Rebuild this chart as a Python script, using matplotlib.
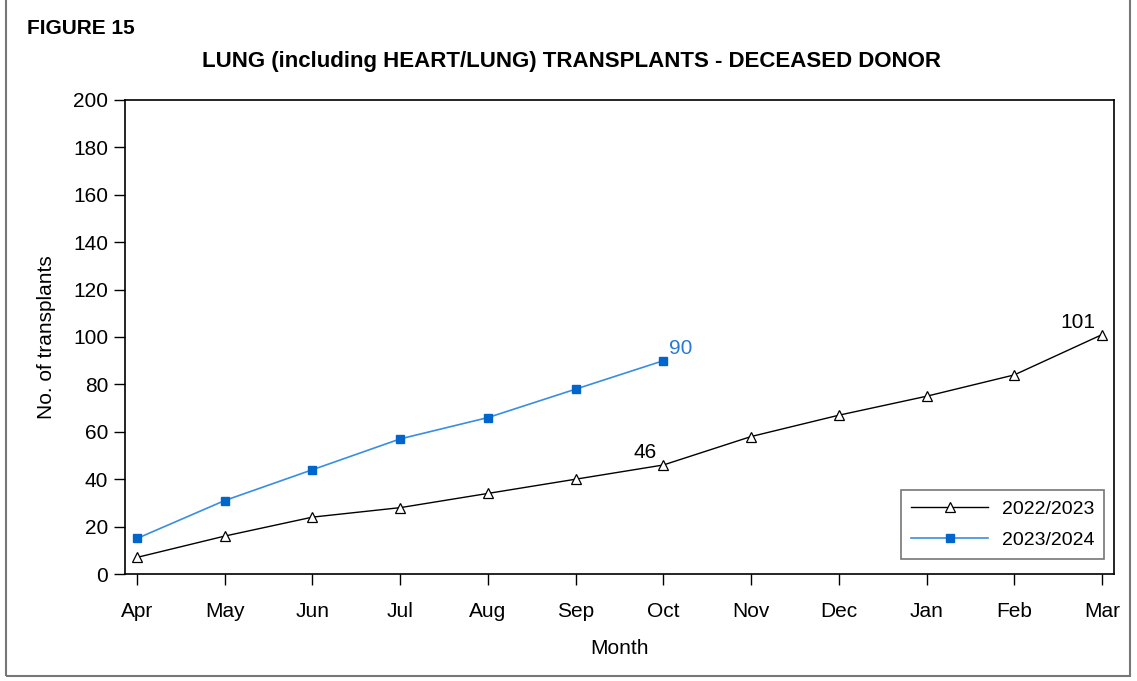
import matplotlib.pyplot as plt
from matplotlib.patches import Rectangle

plt.rcParams['font.family'] = ['Liberation Sans', 'DejaVu Sans']

months = ['Apr', 'May', 'Jun', 'Jul', 'Aug', 'Sep', 'Oct', 'Nov', 'Dec', 'Jan', 'Feb', 'Mar']
y2022 = [7, 16, 24, 28, 34, 40, 46, 58, 67, 75, 84, 101]
y2023 = [15, 31, 44, 57, 66, 78, 90]
blue = '#0066CC'

fig = plt.figure(figsize=(11.37, 6.81), dpi=100)
ax = fig.add_axes([0.1099, 0.1571, 0.8699, 0.6961])

x1 = list(range(len(y2022)))
x2 = list(range(len(y2023)))
ax.plot(x1, y2022, color='black', lw=1, marker='^', markersize=7,
        markerfacecolor='white', markeredgecolor='black', markeredgewidth=0.9,
        label='2022/2023')
ax.plot(x2, y2023, color='#3A8EE0', lw=1.2, marker='s', markersize=5.5,
        markerfacecolor=blue, markeredgecolor=blue, label='2023/2024')

ax.annotate(str(y2023[-1]), (x2[-1], y2023[-1]), xytext=(4, 2), textcoords='offset points',
            color='#2A7AD5', fontsize=15, ha='left', va='bottom')
ax.annotate(str(y2022[6]), (6, y2022[6]), xytext=(-5, 2), textcoords='offset points',
            color='black', fontsize=15, ha='right', va='bottom')
ax.annotate(str(y2022[-1]), (11, y2022[-1]), xytext=(-5, 2), textcoords='offset points',
            color='black', fontsize=15, ha='right', va='bottom')

ax.set_xlim(-0.137, 11.137)
ax.set_ylim(0, 200)
ax.set_yticks(range(0, 201, 20))
ax.set_xticks(x1)
ax.set_xticklabels(months)
ax.tick_params(axis='both', direction='out', length=8, width=1, labelsize=15)
ax.tick_params(axis='x', pad=12)
ax.tick_params(axis='y', pad=4)
for s in ax.spines.values():
    s.set_linewidth(1.2)

ax.set_xlabel('Month', fontsize=15, labelpad=13)
ax.set_ylabel('No. of transplants', fontsize=15, labelpad=12)

leg = ax.legend(loc='lower right', fontsize=14, frameon=True, fancybox=False,
                edgecolor='#555555', handlelength=4.0, handletextpad=0.7,
                borderpad=0.5, labelspacing=0.7, bbox_to_anchor=(1.0, 0.012))
leg.get_frame().set_linewidth(1.2)

fig.text(0.0238, 0.958, 'FIGURE 15', fontsize=15, fontweight='bold', ha='left', va='center')
fig.text(0.503, 0.909, 'LUNG (including HEART/LUNG) TRANSPLANTS - DECEASED DONOR',
         fontsize=16, fontweight='bold', ha='center', va='center')

fig.patches.append(Rectangle((0.005, 0.007), 0.989, 1.0, transform=fig.transFigure,
                             fill=False, edgecolor='#777777', lw=1.5))

plt.savefig('out.png', dpi=100)
